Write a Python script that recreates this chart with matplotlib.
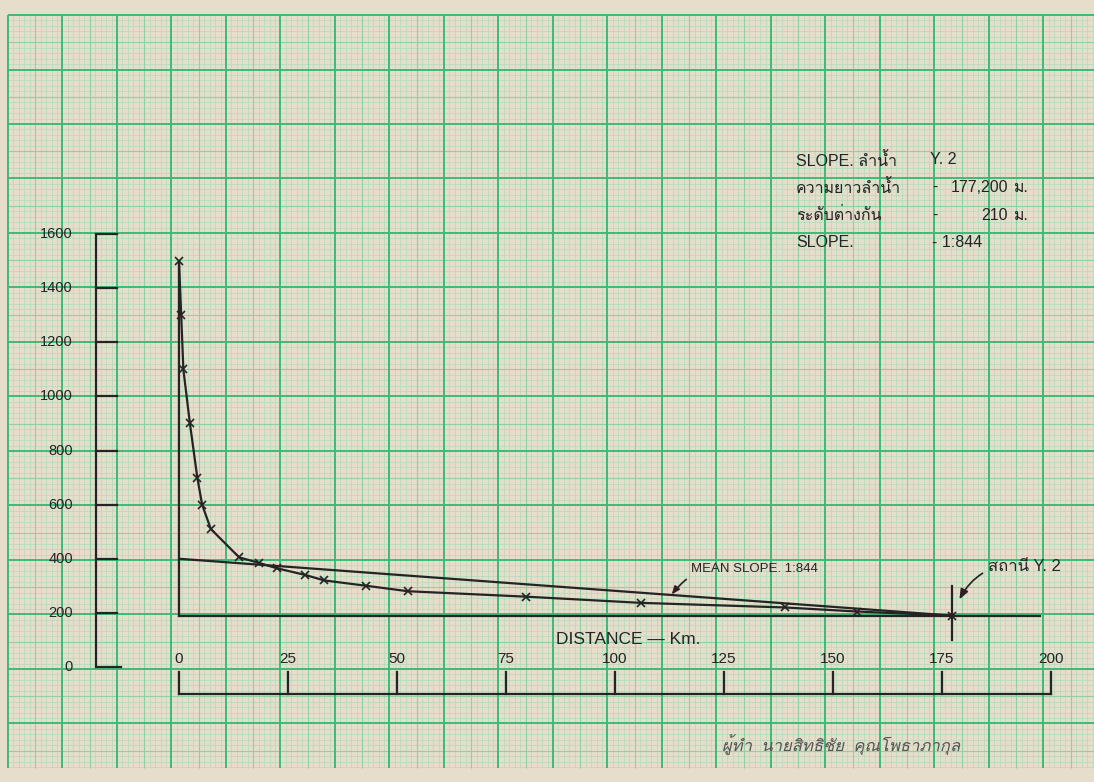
import numpy as np
import matplotlib
matplotlib.use("Agg")
import matplotlib.pyplot as plt
from matplotlib.collections import LineCollection
from matplotlib import font_manager
from matplotlib.ft2font import FT2Font

# ---------------- data ----------------
distance_km = [0, 0.5, 1, 2.5, 4.2, 5.3, 7.3, 13.8, 18.3, 22.4, 29, 33.3, 43, 52.5,
               79.5, 106, 139, 155.5, 177.2]
elevation_m = [1500, 1300, 1100, 900, 700, 600, 510, 405, 385, 365, 340, 320, 300, 280,
               260, 237, 220, 205, 190]
mean_slope_km = [0, 177.2]
mean_slope_m = [400, 190]
base_level_m = 190
base_end_km = 197.5
station_km = 177.2
y_ticks = [0, 200, 400, 600, 800, 1000, 1200, 1400, 1600]
x_ticks = [0, 25, 50, 75, 100, 125, 150, 175, 200]

# ---------------- fonts ----------------
thai_fams = []
for f in font_manager.fontManager.ttflist:
    try:
        if 0x0E01 in FT2Font(f.fname).get_charmap() and f.name not in thai_fams:
            thai_fams.append(f.name)
    except Exception:
        pass
preferred = [n for n in ["Loma", "Garuda", "Norasi"] if n in thai_fams]
thai_first = preferred[:1] if preferred else thai_fams[:1]
FAM = ["Liberation Sans"] + thai_first + ["DejaVu Sans"]

W, H = 1094, 782
fig = plt.figure(figsize=(W / 100, H / 100), dpi=100)
fig.patch.set_facecolor("#e6ddca")

# ---------------- graph paper ----------------
bg = fig.add_axes([0, 0, 1, 1])
bg.set_xlim(0, W)
bg.set_ylim(H, 0)
bg.axis("off")
gx0, gy0, gx1, gy1 = 8, 15, W + 2, 768
step = 54.5 / 10
groups = {0: [], 5: [], 1: []}
for i, x in enumerate(np.arange(gx0, gx1, step)):
    k = 0 if i % 10 == 0 else (5 if i % 5 == 0 else 1)
    groups[k].append([(x, gy0), (x, gy1)])
for i, y in enumerate(np.arange(gy0, gy1 + 0.1, step)):
    k = 0 if i % 10 == 0 else (5 if i % 5 == 0 else 1)
    groups[k].append([(gx0, y), (gx1, y)])
bg.add_collection(LineCollection(groups[1], colors="#b2dbbc", linewidths=0.5))
bg.add_collection(LineCollection(groups[5], colors="#8ed2a4", linewidths=0.8))
bg.add_collection(LineCollection(groups[0], colors="#3dbb76", linewidths=1.4))

# ---------------- chart (data coordinates) ----------------
ax = fig.add_axes([0, 0, 1, 1])
ax.patch.set_alpha(0)
ax.axis("off")
PX_KM, PX_M = 4.36, 0.2706
X0PX, Y0PX = 179, 667
ax.set_xlim(-X0PX / PX_KM, (W - X0PX) / PX_KM)
ax.set_ylim((Y0PX - H) / PX_M, Y0PX / PX_M)

ink = "#242424"
lw = 1.6

# left elevation scale bar
ybar_x = -19.0
ax.plot([ybar_x, ybar_x], [y_ticks[0], y_ticks[-1]], color=ink, lw=lw, solid_capstyle="butt")
for t in y_ticks:
    ax.plot([ybar_x, -14.2 if t else -13.3], [t, t], color=ink, lw=lw)
    ax.text(-24.3, t, f"{t}", ha="right", va="center", fontsize=10.5, family=FAM, color=ink)

# bottom distance scale bar
xbar_y = -100
ax.plot([x_ticks[0], x_ticks[-1]], [xbar_y, xbar_y], color=ink, lw=lw)
for t in x_ticks:
    ax.plot([t, t], [xbar_y, -18], color=ink, lw=lw)
    ax.text(t, 28, f"{t}", ha="center", va="center", fontsize=11, family=FAM, color=ink)
ax.text(86.5, 103, "DISTANCE — Km.", ha="left", va="center", fontsize=12.5,
        family=FAM, color=ink)

# frame lines of the profile
ax.plot([0, 0], [elevation_m[0], base_level_m], color=ink, lw=lw)
ax.plot([0, base_end_km], [base_level_m, base_level_m], color=ink, lw=lw)
ax.plot(mean_slope_km, mean_slope_m, color=ink, lw=lw)
ax.plot([station_km, station_km], [100, 300], color=ink, lw=lw)

# river profile
ax.plot(distance_km, elevation_m, color=ink, lw=lw, marker="x", ms=5.5, mew=1.2)

# annotations
ax.annotate("MEAN SLOPE. 1:844", xy=(113, 268), xytext=(117.5, 362),
            fontsize=9.5, family=FAM, color=ink, ha="left", va="center",
            arrowprops=dict(arrowstyle="-|>,head_length=0.5,head_width=0.2", color=ink,
                            lw=1.2, connectionstyle="arc3,rad=0.35", shrinkA=2, shrinkB=0))
ax.annotate("สถานี Y. 2", xy=(179, 250), xytext=(185.5, 373),
            fontsize=12, family=FAM, color=ink, ha="left", va="center",
            arrowprops=dict(arrowstyle="-|>,head_length=0.5,head_width=0.2", color=ink,
                            lw=1.2, connectionstyle="arc3,rad=0.35", shrinkA=2, shrinkB=0))

# ---------------- info block (pixel positions) ----------------
fs = 11.5
rows = [160.8, 187.5, 215, 242.5]
bg.text(796, rows[0], "SLOPE. ลำน้ำ", fontsize=fs, family=FAM, color=ink, va="center")
bg.text(930, rows[0] - 1, "Y. 2", fontsize=fs, family=FAM, color=ink, va="center")
bg.text(796, rows[1], "ความยาวลำน้ำ", fontsize=fs, family=FAM, color=ink, va="center")
bg.text(932, rows[1], "-", fontsize=fs, family=FAM, color=ink, va="center")
bg.text(1008, rows[1], "177,200", fontsize=fs, family=FAM, color=ink, va="center", ha="right")
bg.text(1013, rows[1], "ม.", fontsize=fs, family=FAM, color=ink, va="center")
bg.text(796, rows[2], "ระดับต่างกัน", fontsize=fs, family=FAM, color=ink, va="center")
bg.text(932, rows[2], "-", fontsize=fs, family=FAM, color=ink, va="center")
bg.text(1008, rows[2], "210", fontsize=fs, family=FAM, color=ink, va="center", ha="right")
bg.text(1013, rows[2], "ม.", fontsize=fs, family=FAM, color=ink, va="center")
bg.text(796, rows[3], "SLOPE.", fontsize=fs, family=FAM, color=ink, va="center")
bg.text(932, rows[3], "- 1:844", fontsize=fs, family=FAM, color=ink, va="center")

# handwritten signature
bg.text(722, 745, "ผู้ทำ  นายสิทธิชัย  คุณโพธาภากุล", fontsize=12, family=FAM,
        color="#555555", style="italic", va="center")

fig.savefig("out.png", dpi=100, facecolor=fig.get_facecolor())
